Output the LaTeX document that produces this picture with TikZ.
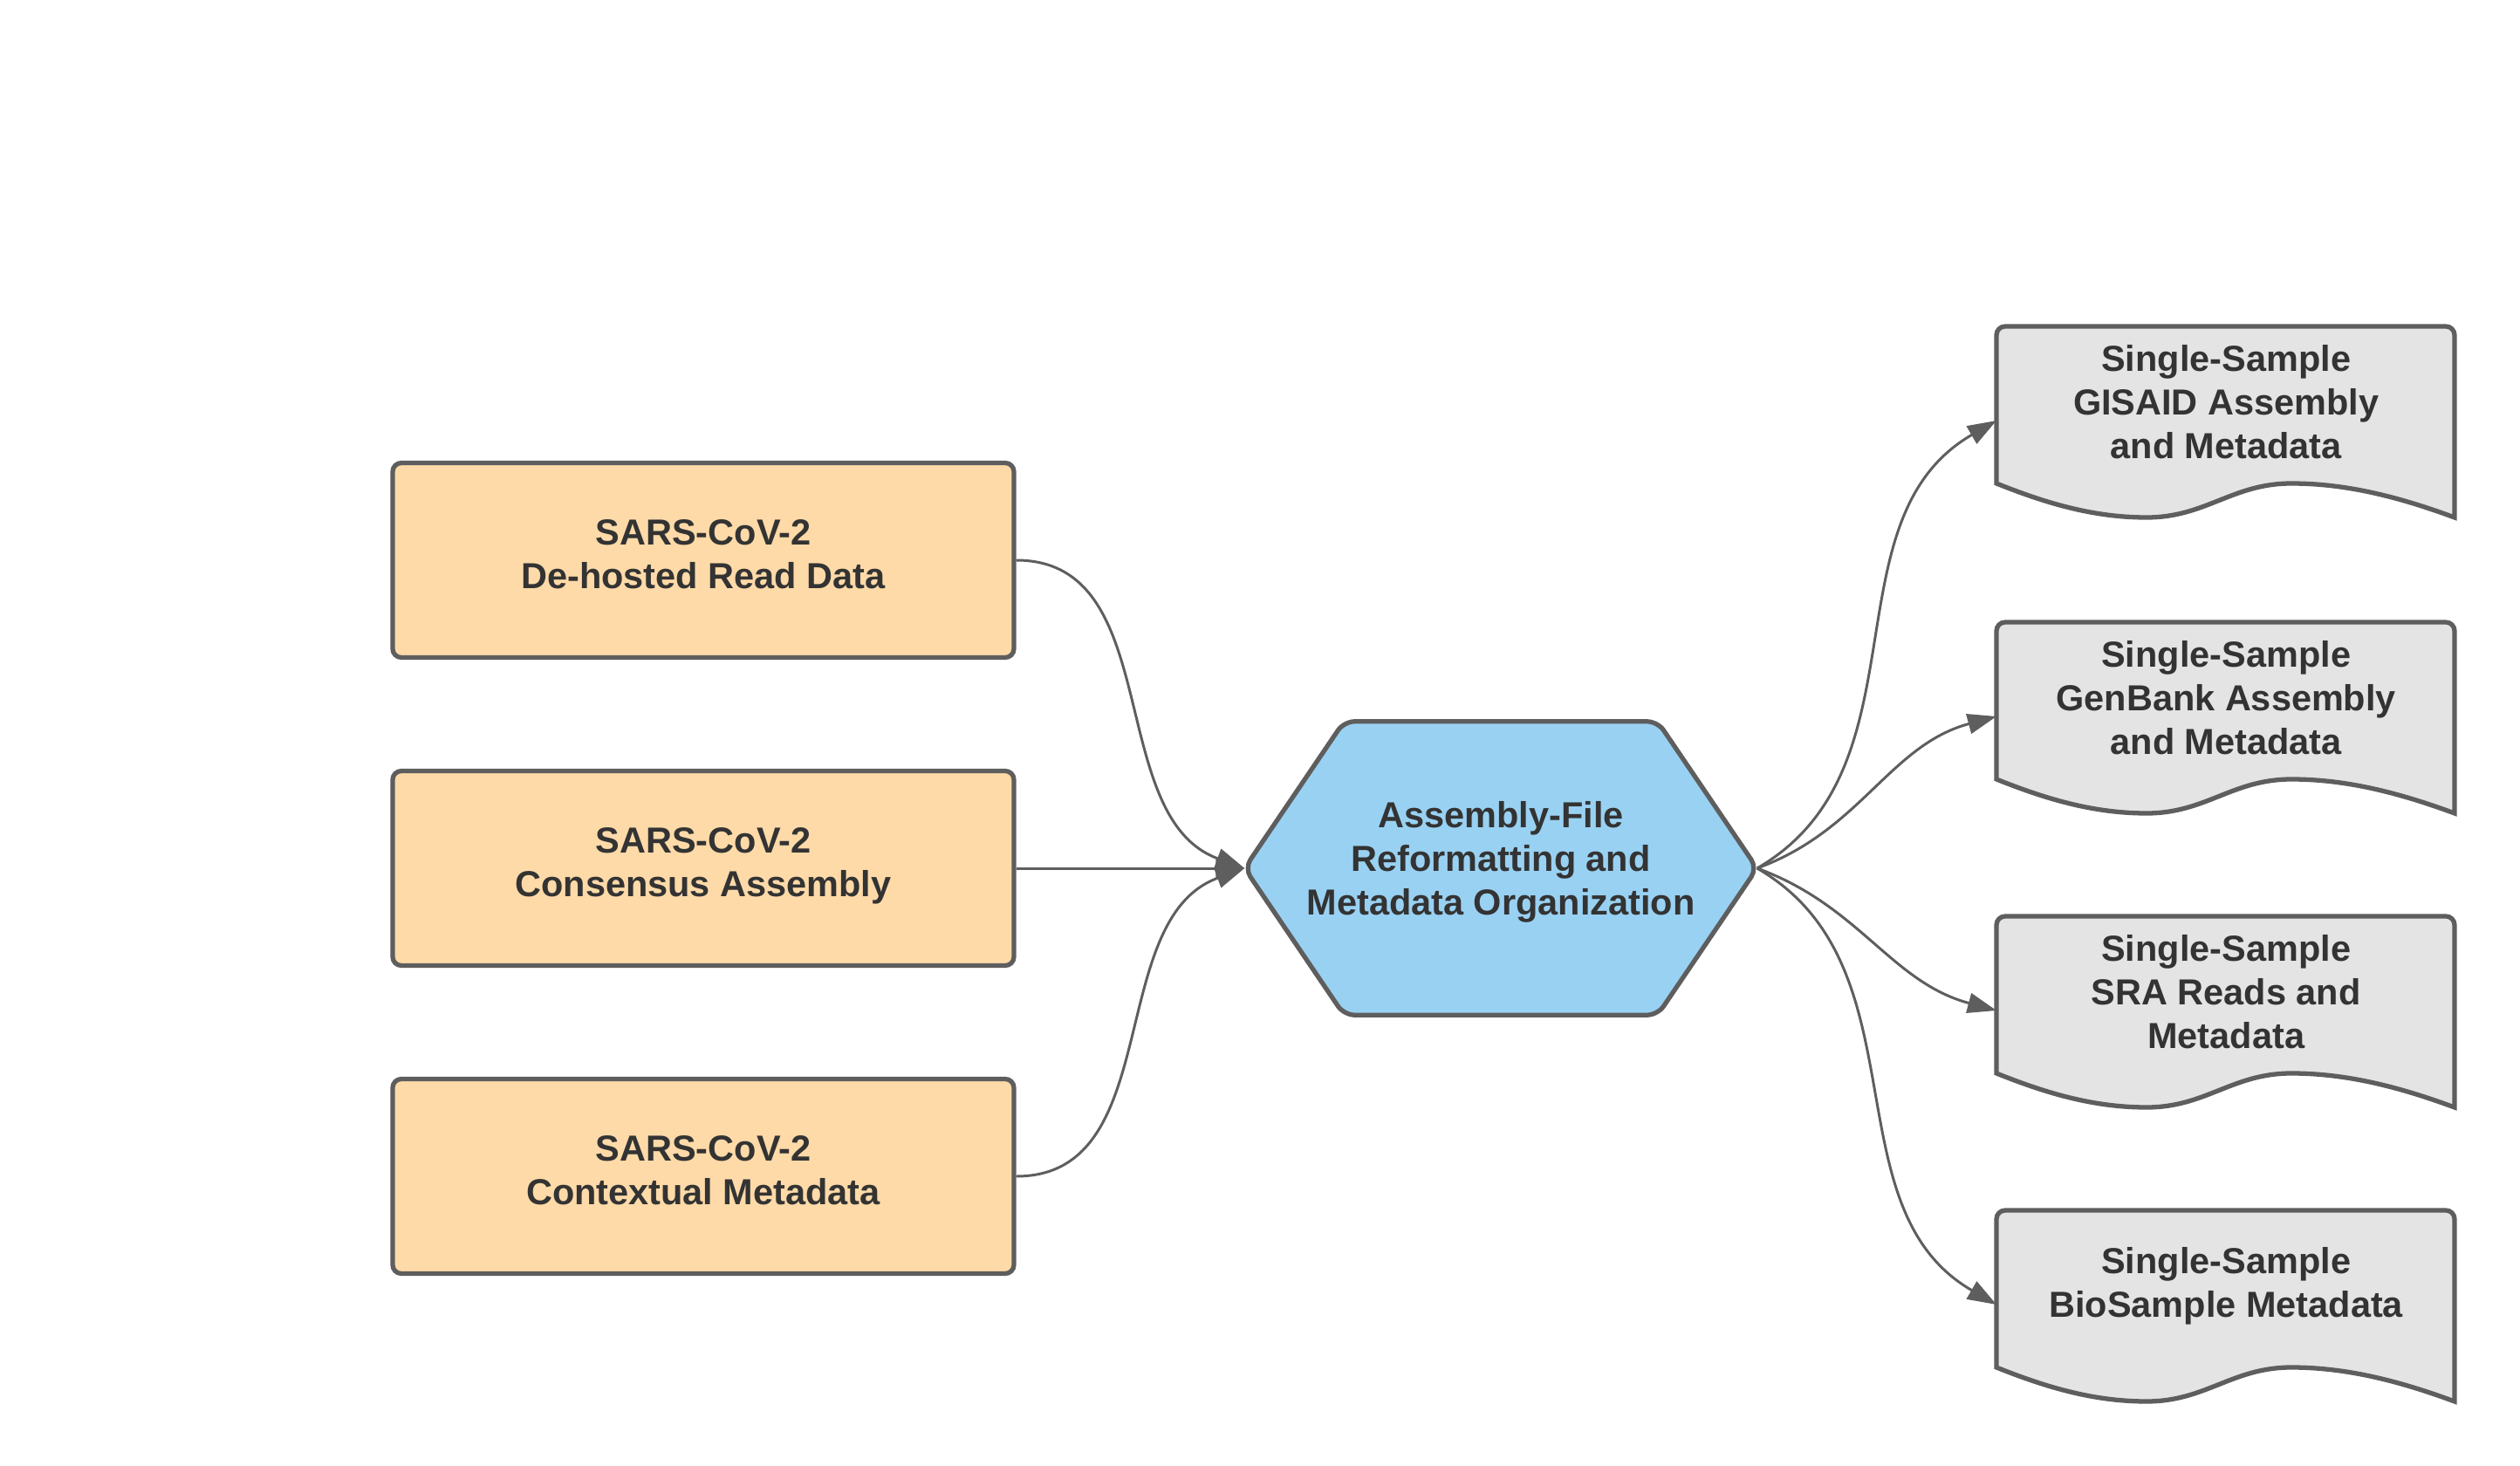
\documentclass[tikz,border=0pt]{standalone}
\usepackage{fontspec}
\setmainfont{Liberation Sans}
\usetikzlibrary{calc,arrows.meta}
\pgfdeclarelayer{back}
\pgfsetlayers{back,main}
\definecolor{boxorange}{HTML}{FEDAA8}
\definecolor{hexblue}{HTML}{99D1F2}
\definecolor{docgrey}{HTML}{E4E4E4}
\definecolor{edgegrey}{HTML}{5E5E5E}
\definecolor{ink}{HTML}{333333}
\newcommand\boxfont{\fontsize{11.8pt}{14.1pt}\selectfont\bfseries}
\tikzset{
	srcbox/.style={draw=edgegrey, line width=1.5pt, fill=boxorange, rounded corners=0.1cm, minimum width=7.12cm, minimum height=2.23cm, text depth=0.14cm, align=center, text=ink, font=\boxfont},
	hubtext/.style={minimum width=5.86cm, minimum height=3.35cm, inner sep=0pt, text depth=0.23cm, align=center, text=ink, font=\boxfont},
	doctext/.style={minimum width=5.25cm, minimum height=1.72cm, inner sep=0pt, anchor=north west, align=center, text=ink, font=\boxfont},
	shapeline/.style={draw=edgegrey, line width=1.5pt},
	link/.style={draw=edgegrey, line width=0.85pt, -{Triangle[length=0.33cm, width=0.23cm]}}
}
\def\hexframe(#1){\begin{pgfonlayer}{back}\draw[shapeline, fill=hexblue, rounded corners=0.12cm] (#1.west) -- ($(#1.north west)+(1.14,0)$) -- ($(#1.north east)+(-1.14,0)$) -- (#1.east) -- ($(#1.south east)+(-1.14,0)$) -- ($(#1.south west)+(1.14,0)$) -- cycle;\end{pgfonlayer}}
\def\docpage(#1){\begin{pgfonlayer}{back}\draw[shapeline, fill=docgrey, shift={(#1.north west)}] (0,-1.80) -- (0,-0.1) arc[start angle=180, end angle=90, radius=0.1] -- (5.15,0) arc[start angle=90, end angle=0, radius=0.1] -- (5.25,-2.19) .. controls (4.6,-1.95) and (4.0,-1.80) .. (3.38,-1.80) .. controls (2.7,-1.80) and (2.4,-2.19) .. (1.72,-2.19) .. controls (1.1,-2.19) and (0.55,-2.02) .. cycle;\end{pgfonlayer}}

\begin{document}
\begin{tikzpicture}
		%%%%% START %%%%%
		\useasboundingbox (0,0) rectangle (28.88,-16.8);
		
		% inputs
		\node[srcbox] (dehost) at (8.06,-6.42) {SARS-CoV-2\\De-hosted Read Data};
		\node[srcbox] (consensus) at (8.06,-9.95) {SARS-CoV-2\\Consensus Assembly};
		\node[srcbox] (context) at (8.06,-13.48) {SARS-CoV-2\\Contextual Metadata};
		
		% reformatting step
		\node[hubtext] (hub) at (17.2,-9.95) {Assembly-File\\Reformatting and\\Metadata Organization};
		\hexframe(hub)
		
		% outputs
		\node[doctext] (gisaid) at (22.88,-3.74) {Single-Sample\\GISAID Assembly\\and Metadata};
		\node[doctext] (genbank) at (22.88,-7.13) {Single-Sample\\GenBank Assembly\\and Metadata};
		\node[doctext] (sra) at (22.88,-10.50) {Single-Sample\\SRA Reads and\\Metadata};
		\node[doctext] (biosample) at (22.88,-13.87) {Single-Sample\\BioSample Metadata};
		\docpage(gisaid)
		\docpage(genbank)
		\docpage(sra)
		\docpage(biosample)
		
		\draw[link] (dehost.east) to[out=0, in=160] (hub.west);
		\draw[link] (consensus.east) -- (hub.west);
		\draw[link] (context.east) to[out=0, in=200] (hub.west);
		
		\draw[link] (hub.east) to[out=30, in=210] ([yshift=-1.08cm]gisaid.north west);
		\draw[link] (hub.east) to[out=20, in=195] ([yshift=-1.08cm]genbank.north west);
		\draw[link] (hub.east) to[out=-20, in=165] ([yshift=-1.08cm]sra.north west);
		\draw[link] (hub.east) to[out=-30, in=150] ([yshift=-1.08cm]biosample.north west);
		
		%%%%% END %%%%%
	\end{tikzpicture}
\end{document}
